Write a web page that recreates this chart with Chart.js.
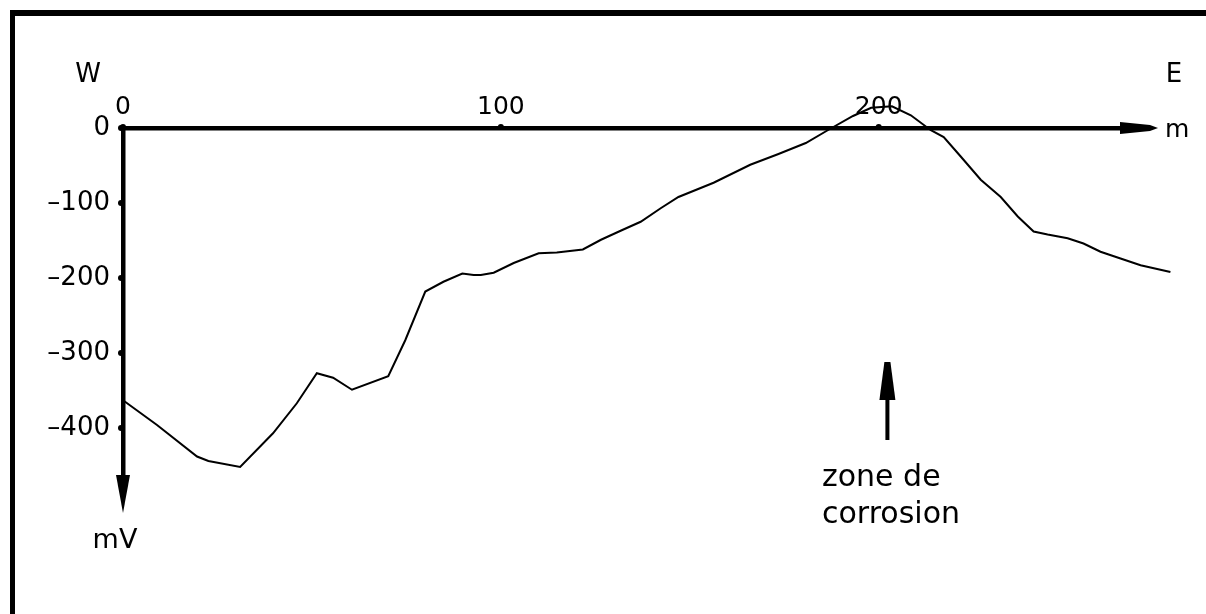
<!DOCTYPE html>
<html>
<head>
<meta charset="utf-8">
<script src="https://cdn.jsdelivr.net/npm/chart.js@4"></script>
<style>
  html, body { margin: 0; padding: 0; background: #fff; }
  #wrap { width: 1206px; height: 614px; position: relative; }
</style>
</head>
<body>
<div id="wrap"><canvas id="profil"></canvas></div>
<script>
// distance along the profile (m), W -> E
const distances = [0, 9, 19.6, 22.6, 31, 39.7, 46, 51.3, 55.6, 60.6, 70.2, 74.7, 80, 84.8, 89.8, 92.8,
  94.7, 98.1, 103.4, 110, 114.8, 121.7, 126.5, 131.7, 137, 142.3, 147, 156.3, 166, 173.3, 180.7,
  186.5, 193.2, 198, 203.5, 208.5, 213.8, 217.2, 221.7, 227, 232.3, 236.8, 241, 244.7, 250, 254.2,
  258.7, 264, 269.3, 277.2];
// potential (mV)
const potentials = [-363, -396, -438, -444, -452, -407, -367, -327, -333, -349, -331, -283, -218, -205,
  -194, -196, -196, -193, -180, -167, -166, -162, -149, -137, -125, -107, -92, -73, -49, -35, -20,
  -3, 16, 27, 29, 17, -3, -12, -38, -69, -92, -118, -138, -142, -147, -154, -165, -174, -183, -192];

const xTicks = [0, 100, 200];
const yTicks = [0, -100, -200, -300, -400];

const FONT = '"DejaVu Sans", sans-serif';

const points = distances.map((d, i) => ({ x: d, y: potentials[i] }));

// frame, axes with arrows, and the annotations
const decor = {
  id: 'decor',
  afterDraw(chart) {
    const ctx = chart.ctx;
    const xs = chart.scales.x, ys = chart.scales.y;
    const x0 = xs.getPixelForValue(0), y0 = ys.getPixelForValue(0);
    ctx.save();
    ctx.fillStyle = '#000';
    ctx.strokeStyle = '#000';

    // frame (top + left)
    ctx.fillRect(10, 10, 1196, 6);
    ctx.fillRect(10, 10, 5, 604);

    // horizontal axis
    const xEnd = 1158;
    ctx.fillRect(x0 - 2, y0 - 2, xEnd - 30 - x0, 4.5);
    ctx.beginPath();
    ctx.moveTo(xEnd - 38, y0 - 6);
    ctx.lineTo(xEnd - 8, y0 - 3);
    ctx.lineTo(xEnd, y0);
    ctx.lineTo(xEnd - 8, y0 + 3);
    ctx.lineTo(xEnd - 38, y0 + 6);
    ctx.closePath();
    ctx.fill();

    // vertical axis
    const yEnd = 513;
    ctx.fillRect(x0 - 2, y0 - 2, 4.5, yEnd - 30 - y0);
    ctx.beginPath();
    ctx.moveTo(x0 - 7, yEnd - 38);
    ctx.lineTo(x0, yEnd);
    ctx.lineTo(x0 + 7, yEnd - 38);
    ctx.closePath();
    ctx.fill();

    // small tick bumps
    xTicks.forEach(v => {
      const px = xs.getPixelForValue(v);
      ctx.beginPath();
      ctx.arc(px, y0 - 1, 3, 0, Math.PI * 2);
      ctx.fill();
    });
    yTicks.forEach(v => {
      const py = ys.getPixelForValue(v);
      ctx.beginPath();
      ctx.arc(x0 - 2, py, 3, 0, Math.PI * 2);
      ctx.fill();
    });

    // labels
    ctx.font = '26px ' + FONT;
    ctx.textAlign = 'center';
    ctx.textBaseline = 'alphabetic';
    ctx.fillText('W', 88, 82);
    ctx.fillText('E', 1174, 82);
    ctx.font = '25px ' + FONT;
    ctx.textAlign = 'left';
    ctx.fillText('m', 1165, 137);
    ctx.font = '27px ' + FONT;
    ctx.textAlign = 'center';
    ctx.fillText('mV', 115, 548);

    // corrosion zone marker
    const ax = xs.getPixelForValue(202.3);
    const aTop = ys.getPixelForValue(-312), aBot = ys.getPixelForValue(-416);
    ctx.fillRect(ax - 2, aTop + 30, 4, aBot - aTop - 30);
    ctx.beginPath();
    ctx.moveTo(ax - 8, aTop + 38);
    ctx.lineTo(ax - 3, aTop);
    ctx.lineTo(ax + 3, aTop);
    ctx.lineTo(ax + 8, aTop + 38);
    ctx.closePath();
    ctx.fill();

    ctx.font = '30px ' + FONT;
    ctx.textAlign = 'left';
    ctx.fillText('zone de', 822, 486);
    ctx.fillText('corrosion', 822, 523);
    ctx.restore();
  }
};

new Chart(document.getElementById('profil'), {
  type: 'line',
  data: {
    datasets: [{
      data: points,
      borderColor: '#000',
      borderWidth: 2,
      pointRadius: 0,
      tension: 0,
      fill: false,
      clip: false
    }]
  },
  options: {
    responsive: true,
    maintainAspectRatio: false,
    animation: false,
    layout: { padding: { left: 0, top: 0, right: 25, bottom: 96 } },
    plugins: { legend: { display: false }, tooltip: { enabled: false } },
    scales: {
      x: {
        type: 'linear',
        position: 'top',
        min: 0,
        max: 280,
        z: 1,
        grid: { display: false, drawTicks: false },
        border: { display: false },
        afterFit: s => { s.height = 128; },
        ticks: {
          stepSize: 100,
          includeBounds: false,
          padding: 6,
          color: '#000',
          font: { family: FONT, size: 25 },
          maxRotation: 0,
          showLabelBackdrop: true,
          backdropColor: '#fff',
          backdropPadding: 0,
          callback: v => xTicks.includes(v) ? String(v) : ''
        }
      },
      y: {
        type: 'linear',
        min: -520,
        max: 0,
        grid: { display: false, drawTicks: false },
        border: { display: false },
        afterFit: s => { s.width = 123; },
        ticks: {
          stepSize: 100,
          includeBounds: false,
          padding: 13,
          color: '#000',
          font: { family: FONT, size: 26 },
          callback: v => yTicks.includes(v) ? (v < 0 ? '\u2013' + Math.abs(v) : String(v)) : ''
        }
      }
    }
  },
  plugins: [decor]
});
</script>
</body>
</html>
